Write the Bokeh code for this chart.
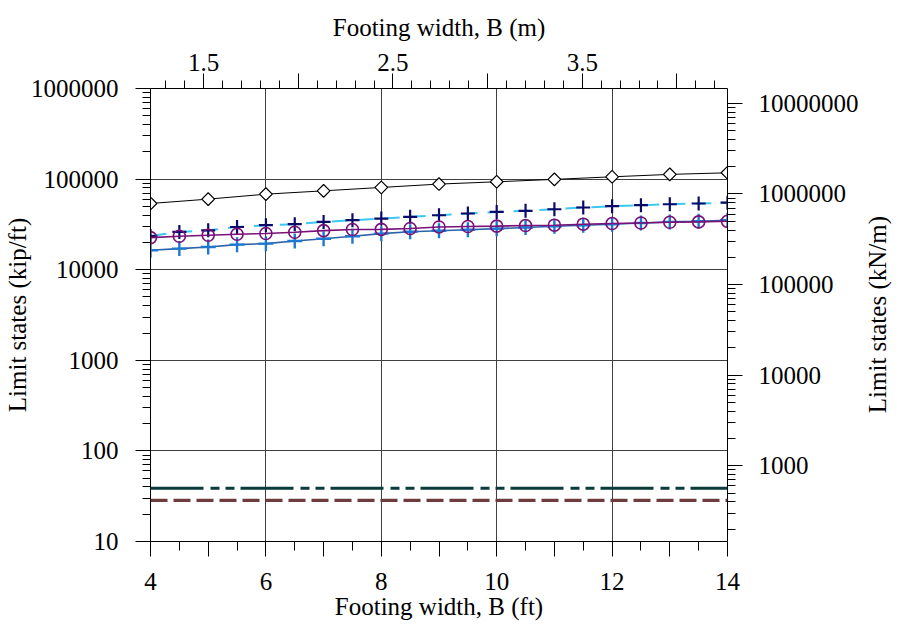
import math
from bokeh.plotting import figure
from bokeh.layouts import row
from bokeh.models import (Range1d, LogAxis, LinearAxis, FixedTicker,
                          CustomJSTickFormatter, Span, LogScale, Div)
from bokeh.embed import file_html
from bokeh.resources import INLINE

# ---------------- data ----------------
B_ft_whole = [4, 5, 6, 7, 8, 9, 10, 11, 12, 13, 14]
B_ft_half = [4, 4.5, 5, 5.5, 6, 6.5, 7, 7.5, 8, 8.5, 9, 9.5, 10,
             10.5, 11, 11.5, 12, 12.5, 13, 13.5, 14]

# black diamonds (kip/ft)
diamond_vals = [53800, 60100, 68200, 74200, 80900, 88100, 93400, 99300,
                106000, 112700, 117400]
# navy crosses on light-blue dashed line
navy_vals = [23500, 26100, 27200, 29600, 31000, 31800, 33700, 35200, 36700,
             38300, 39900, 41700, 43400, 44600, 46500, 48600, 50200, 51500,
             52800, 53800, 54900]
# purple circles
purple_vals = [22600, 23400, 24000, 24600, 25100, 25900, 27000, 27800, 27900,
               28500, 29600, 30000, 30300, 30700, 31000, 31800, 32300, 32800,
               33400, 33700, 34200]
# blue crosses
blue_vals = [16400, 17100, 17800, 18900, 19400, 20700, 22000, 23400, 25000,
             26200, 26900, 27600, 28400, 29200, 30200, 31000, 31800, 32800,
             33700, 34300, 35200]
# horizontal limit levels (kip/ft)
teal_level = 38.7
brown_level = 28.4

left_ticks = [10, 100, 1000, 10000, 100000, 1000000]
right_ticks = [1000, 10000, 100000, 1000000, 10000000]
bottom_ticks = [4, 5, 6, 7, 8, 9, 10, 11, 12, 13, 14]
bottom_grid = [4, 6, 8, 10, 12, 14]
top_ticks = [1.5, 2.0, 2.5, 3.0, 3.5, 4.0]

KIPFT_TO_KNM = 14.5939
FT_TO_M = 0.3048

FONT = "Liberation Serif"
FS = "25px"

x0, x1 = 4, 14
y0, y1 = 10, 1000000

# frame placement (pixels)
FL, FR, FT, FB = 150, 730, 88, 541
W, H = 899, 634
FIG_W = 861          # figure width; the rest holds the right-hand title
TITLE_W = W - FIG_W


def log_minors(lo_exp, hi_exp):
    out = []
    for e in range(lo_exp, hi_exp + 1):
        for k in range(2, 10):
            out.append(k * 10 ** e)
    return out


fig = figure(width=FIG_W, height=H,
             x_range=Range1d(x0, x1), y_range=Range1d(y0, y1),
             y_axis_type="log", output_backend="svg", toolbar_location=None,
             min_border_left=FL, min_border_right=FIG_W - FR,
             min_border_top=FT, min_border_bottom=H - FB)
fig.outline_line_color = None
fig.background_fill_color = "white"
fig.border_fill_color = "white"

fig.extra_x_ranges = {"m": Range1d(x0 * FT_TO_M, x1 * FT_TO_M)}
fig.extra_y_ranges = {"kn": Range1d(y0 * KIPFT_TO_KNM, y1 * KIPFT_TO_KNM)}
fig.extra_y_scales = {"kn": LogScale()}


def style_axis(ax, label_standoff, title_standoff):
    ax.axis_line_color = "black"
    ax.axis_line_width = 1
    ax.major_tick_line_color = "black"
    ax.minor_tick_line_color = "black"
    ax.major_tick_in = 0
    ax.major_tick_out = 15
    ax.minor_tick_in = 0
    ax.minor_tick_out = 8
    ax.major_label_text_font = FONT
    ax.major_label_text_font_size = FS
    ax.major_label_text_color = "black"
    ax.axis_label_text_font = FONT
    ax.axis_label_text_font_size = FS
    ax.axis_label_text_font_style = "normal"
    ax.axis_label_text_color = "black"
    ax.major_label_standoff = label_standoff
    ax.axis_label_standoff = title_standoff


# bottom axis (ft)
xa = fig.xaxis[0]
style_axis(xa, 16, 0)
xa.minor_tick_out = 9
xa.ticker = FixedTicker(ticks=bottom_ticks,
                        minor_ticks=[b + 0.5 for b in bottom_ticks[:-1]])
xa.formatter = CustomJSTickFormatter(
    code="return (Math.round(tick) % 2 === 0) ? tick.toFixed(0) : '';")
xa.axis_label = "Footing width, B (ft)"

# left axis (kip/ft)
ya = fig.yaxis[0]
style_axis(ya, 17, -3)
ya.ticker = FixedTicker(ticks=left_ticks, minor_ticks=log_minors(1, 5))
ya.formatter = CustomJSTickFormatter(code="return tick.toFixed(0);")
ya.axis_label = "Limit states (kip/ft)"

# top axis (m)
top = LinearAxis(x_range_name="m")
style_axis(top, 3, 10)
minor_m = [round(1.3 + 0.1 * i, 2) for i in range(30)]
minor_m = [m for m in minor_m if m not in top_ticks and m <= x1 * FT_TO_M]
top.ticker = FixedTicker(ticks=top_ticks, minor_ticks=minor_m)
top.formatter = CustomJSTickFormatter(
    code="return (Math.abs(Math.round(tick * 2) % 2 - 1) < 1e-6) ? tick.toFixed(1) : '';")
top.axis_label = "Footing width, B (m)"
fig.add_layout(top, "above")

# right axis (kN/m); its title (reading bottom-to-top) is set beside it
right = LogAxis(y_range_name="kn")
style_axis(right, 16, 0)
right.ticker = FixedTicker(ticks=right_ticks, minor_ticks=log_minors(2, 6))
right.formatter = CustomJSTickFormatter(code="return tick.toFixed(0);")
fig.add_layout(right, "right")

# grids
fig.xgrid.ticker = FixedTicker(ticks=bottom_grid)
fig.ygrid.ticker = FixedTicker(ticks=left_ticks)
for g in (fig.xgrid[0], fig.ygrid[0]):
    g.grid_line_color = "#404040"
    g.grid_line_width = 1
    g.grid_line_alpha = 1.0

# horizontal levels
fig.add_layout(Span(location=teal_level, dimension="width",
                    line_color="#0b3b3a", line_width=3.2,
                    line_dash="53 7 9 6 9 6"))
fig.add_layout(Span(location=brown_level, dimension="width",
                    line_color="#6e3c3c", line_width=3.2,
                    line_dash="17 6"))

# black diamonds
fig.line(B_ft_whole, diamond_vals, line_color="black", line_width=1)
fig.scatter(B_ft_whole, diamond_vals, marker="square", size=9,
            angle=0.785398, line_color="black", fill_color="white",
            line_width=1.2)

# light blue dashed + navy crosses
fig.line(B_ft_half, navy_vals, line_color="#3cc8f0", line_width=2,
         line_dash="16 10")
fig.scatter(B_ft_half, navy_vals, marker="cross", size=14,
            line_color="#0a0a6a", line_width=2.2)

# blue crosses
fig.line(B_ft_half, blue_vals, line_color="#2a64a8", line_width=1.6)
fig.scatter(B_ft_half, blue_vals, marker="cross", size=15,
            line_color="#1e78d0", line_width=2.4)

# purple circles
fig.line(B_ft_half, purple_vals, line_color="#7a1078", line_width=1.6)
fig.scatter(B_ft_half, purple_vals, marker="circle", size=12,
            line_color="#7a1078", fill_color=None, line_width=1.6)

mid_y = (FT + FB) / 2
right_title = Div(
    text=("<div style=\"width:%dpx;height:%dpx;display:flex;"
          "align-items:center;justify-content:center;\">"
          "<div style=\"writing-mode:vertical-rl;transform:rotate(180deg);"
          "font-family:'Liberation Serif';font-size:%s;color:black;"
          "line-height:1;white-space:nowrap;margin-top:%dpx;"
          "margin-right:%dpx;\">Limit states (kN/m)</div></div>")
    % (TITLE_W, H, FS, int(2 * mid_y - H), 6),
    width=TITLE_W, height=H, margin=0)

p = row(fig, right_title, spacing=0)

open("out.html", "w").write(file_html(p, INLINE))
